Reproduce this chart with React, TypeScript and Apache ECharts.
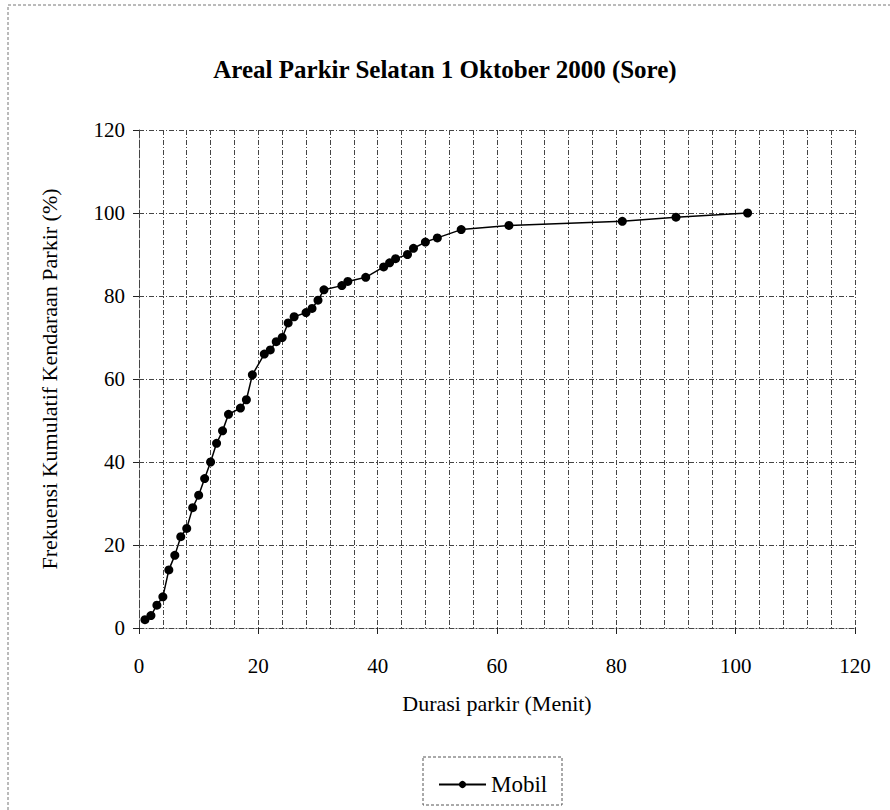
import React, { useEffect, useRef } from "react";
import * as echarts from "echarts";

const durasi = [1, 2, 3, 4, 5, 6, 7, 8, 9, 10, 11, 12, 13, 14, 15, 17, 18, 19, 21, 22, 23, 24, 25, 26, 28, 29, 30, 31, 34, 35, 38, 41, 42, 43, 45, 46, 48, 50, 54, 62, 81, 90, 102];
const frekuensi = [2, 3, 5.5, 7.5, 14, 17.5, 22, 24, 29, 32, 36, 40, 44.5, 47.5, 51.5, 53, 55, 61, 66, 67, 69, 70, 73.5, 75, 76, 77, 79, 81.5, 82.5, 83.5, 84.5, 87, 88, 89, 90, 91.5, 93, 94, 96, 97, 98, 99, 100];

const titleText = "Areal Parkir Selatan 1 Oktober 2000 (Sore)";
const xName = "Durasi parkir (Menit)";
const yName = "Frekuensi Kumulatif Kendaraan Parkir (%)";
const seriesName = "Mobil";

const FONT = "'Liberation Serif', 'Times New Roman', serif";
const gridLine = { color: "#444", type: [5, 2, 1, 2] as any, width: 1 };

export default function App() {
  const ref = useRef<HTMLDivElement>(null);
  useEffect(() => {
    if (!ref.current) return;
    const chart = echarts.init(ref.current, undefined, { renderer: "svg" });
    const data = durasi.map((d, i) => [d, frekuensi[i]]);
    chart.setOption({
      animation: false,
      backgroundColor: "#fff",
      textStyle: { fontFamily: FONT, color: "#000" },
      title: {
        text: titleText,
        left: "center",
        top: 52,
        textStyle: { fontFamily: FONT, fontSize: 25, fontWeight: "bold", color: "#000" },
      },
      grid: { left: 139, right: 35, top: 130, bottom: 182 },
      legend: {
        data: [seriesName],
        left: 433,
        top: 768,
        itemWidth: 47,
        itemHeight: 9,
        itemGap: 4,
        textStyle: { fontFamily: FONT, fontSize: 23, color: "#000" },
      },
      xAxis: [
        {
          type: "value",
          min: 0,
          max: 120,
          interval: 4,
          position: "bottom",
          axisLine: { show: true, lineStyle: gridLine },
          axisTick: { show: false },
          axisLabel: { show: false },
          splitLine: { show: true, lineStyle: gridLine },
        },
        {
          type: "value",
          min: 0,
          max: 120,
          interval: 20,
          position: "bottom",
          name: xName,
          nameLocation: "middle",
          nameGap: 64,
          nameTextStyle: { fontFamily: FONT, fontSize: 22, color: "#000", verticalAlign: "top" },
          axisLine: { show: false },
          axisTick: { show: true, length: 6, lineStyle: { color: "#222" } },
          axisLabel: { show: true, margin: 27, fontFamily: FONT, fontSize: 21, color: "#000" },
          splitLine: { show: false },
        },
      ],
      yAxis: {
        type: "value",
        min: 0,
        max: 120,
        interval: 20,
        name: yName,
        nameLocation: "middle",
        nameGap: 79,
        nameRotate: 90,
        nameTextStyle: { fontFamily: FONT, fontSize: 22, color: "#000" },
        axisLine: { show: true, lineStyle: gridLine },
        axisTick: { show: true, length: 6, lineStyle: { color: "#222" } },
        axisLabel: { margin: 14, fontFamily: FONT, fontSize: 21, color: "#000" },
        splitLine: { show: true, lineStyle: gridLine },
      },
      graphic: [
        {
          type: "rect",
          shape: { x: 8, y: 5, width: 900, height: 900 },
          style: { fill: "none", stroke: "#777", lineWidth: 1, lineDash: [3, 2] },
          silent: true,
        },
        {
          type: "rect",
          shape: { x: 423, y: 757, width: 139, height: 48 },
          style: { fill: "none", stroke: "#555", lineWidth: 1, lineDash: [3, 2] },
          silent: true,
        },
      ],
      series: [
        {
          name: seriesName,
          type: "line",
          xAxisIndex: 0,
          data,
          symbol: "circle",
          symbolSize: 9,
          showSymbol: true,
          itemStyle: { color: "#000" },
          lineStyle: { color: "#000", width: 1.5 },
        },
      ],
    });
    return () => chart.dispose();
  }, []);
  return (
    <div
      ref={ref}
      style={{ position: "absolute", left: 0, top: 0, width: 890, height: 810 }}
    />
  );
}
